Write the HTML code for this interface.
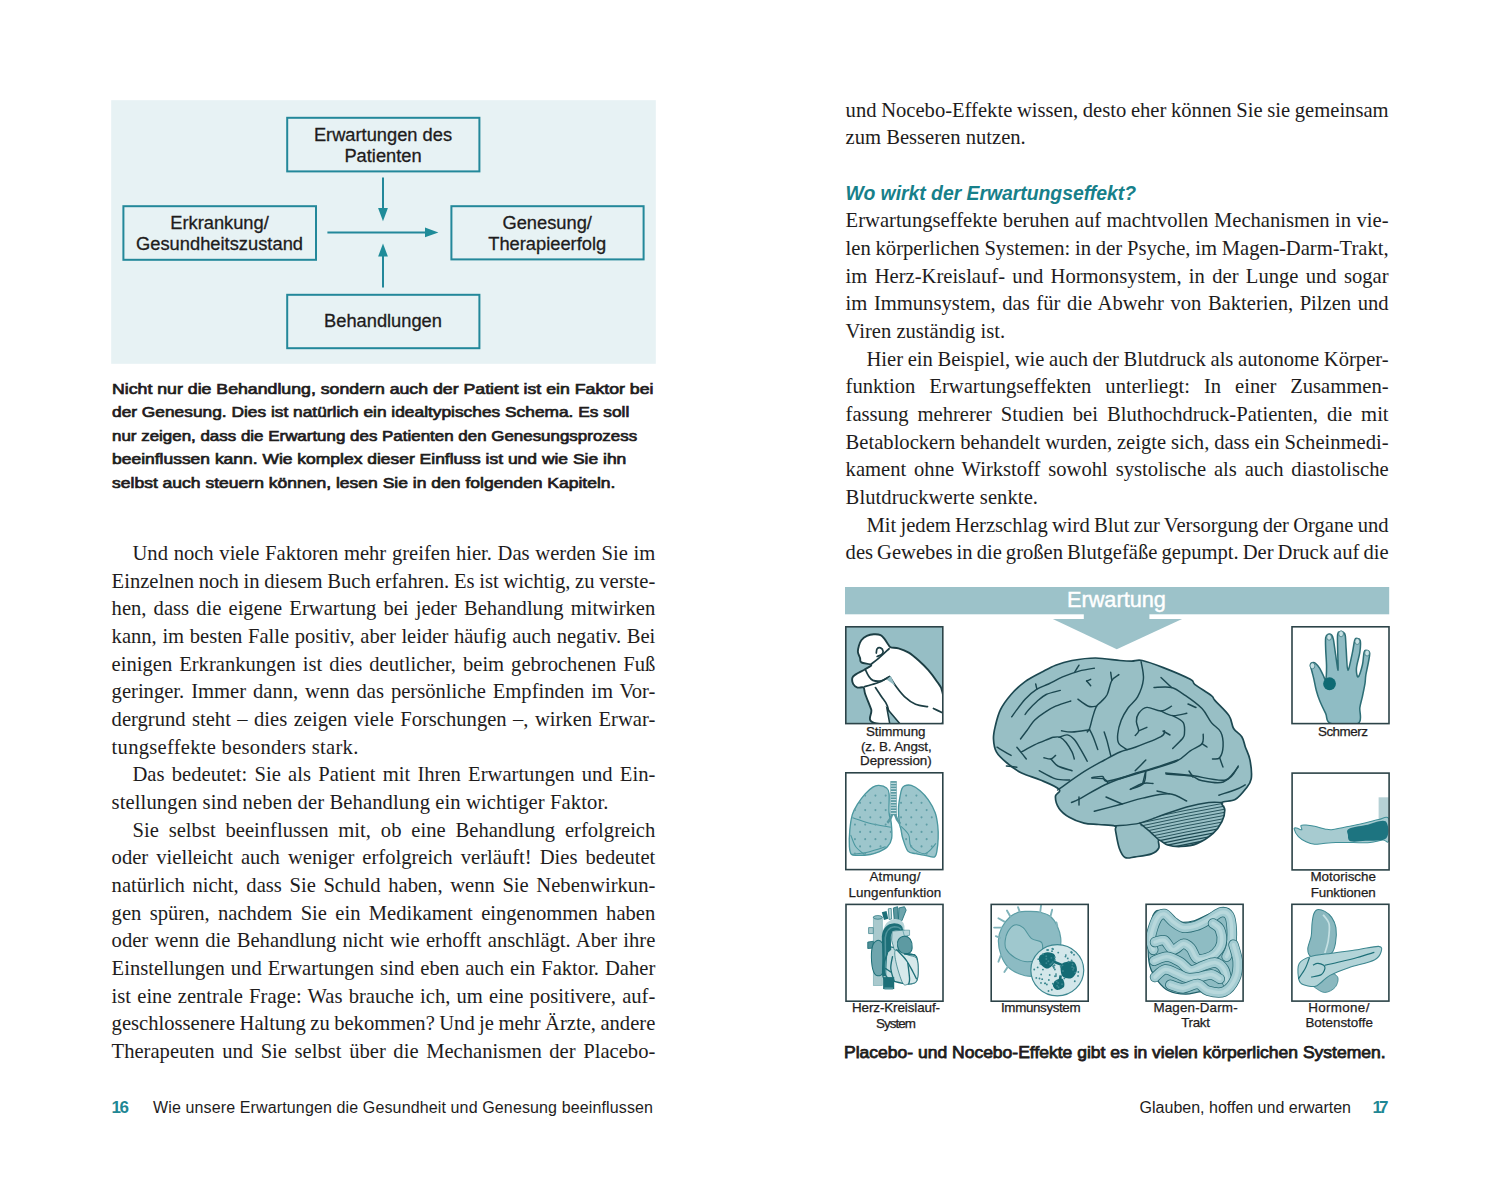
<!DOCTYPE html>
<html><head><meta charset="utf-8"><style>
html,body{margin:0;padding:0;background:#fff;width:1500px;height:1195px;overflow:hidden;position:relative}
.b{position:absolute;white-space:pre;line-height:0;font-family:'Liberation Serif', serif;font-size:20.6px;color:#1e1c1c}
.s{position:absolute;white-space:pre;line-height:0}
svg{position:absolute;left:0;top:0}
</style></head><body>
<svg width="1500" height="1195" viewBox="0 0 1500 1195">
<rect x="111.2" y="100.2" width="544.6" height="263.6" fill="#e7f2f4"/>
<g fill="none" stroke="#23889a" stroke-width="2">
<rect x="287.2" y="117.8" width="192.2" height="53.6"/>
<rect x="123.4" y="206.2" width="192.6" height="53.6"/>
<rect x="451.4" y="206.2" width="192.2" height="53.2"/>
<rect x="287.2" y="294.8" width="192.2" height="53.4"/>
<line x1="383" y1="177.6" x2="383" y2="209"/>
<line x1="327.4" y1="232.4" x2="426" y2="232.4"/>
<line x1="383" y1="287.6" x2="383" y2="256"/>
</g>
<g fill="#1f8c99">
<polygon points="378.1,208 387.9,208 383,221.2"/>
<polygon points="425,227.5 425,237.3 438.4,232.4"/>
<polygon points="378.1,256.6 387.9,256.6 383,243.4"/>
</g>

<rect x="845" y="587" width="544.2" height="27.3" fill="#9cc2c9"/>
<rect x="1083.8" y="613" width="65.6" height="7" fill="#9cc2c9"/>
<polygon points="1052.8,619 1182.1,619 1116.8,649.2" fill="#9cc2c9"/>
<path d="M993.5,739.0 C993.3,734.7 994.1,731.0 995.3,726.1 C996.5,721.2 997.9,715.0 1000.5,709.7 C1003.1,704.4 1007.0,699.2 1011.1,694.5 C1015.2,689.8 1020.0,685.3 1025.1,681.6 C1030.2,677.9 1036.4,675.0 1041.5,672.3 C1046.6,669.6 1050.5,667.2 1055.6,665.2 C1060.7,663.2 1065.4,661.7 1072.0,660.5 C1078.6,659.3 1087.4,658.0 1095.4,658.0 C1103.4,658.0 1114.0,660.0 1120.0,660.5 C1126.0,661.0 1128.0,661.1 1131.7,661.1 C1135.4,661.1 1137.0,659.4 1142.3,660.5 C1147.6,661.6 1155.3,664.5 1163.3,667.6 C1171.3,670.7 1185.0,676.5 1190.3,679.3 C1195.6,682.1 1191.5,681.9 1195.0,684.6 C1198.5,687.3 1208.1,693.1 1211.4,695.7 C1214.7,698.3 1212.0,697.1 1214.9,700.4 C1217.8,703.7 1225.9,710.9 1229.0,715.6 C1232.1,720.3 1231.5,725.0 1233.6,728.5 C1235.7,732.0 1239.8,733.6 1241.8,736.7 C1243.8,739.8 1244.0,743.3 1245.4,747.2 C1246.8,751.1 1249.0,754.8 1250.0,760.1 C1251.0,765.4 1252.0,774.0 1251.2,778.9 C1250.4,783.8 1248.0,785.8 1245.3,789.3 C1242.6,792.8 1239.0,797.4 1235.1,799.6 C1231.2,801.8 1223.7,800.8 1222.0,802.5 C1220.3,804.2 1224.8,806.7 1224.8,809.9 C1224.8,813.1 1223.9,817.7 1221.9,821.6 C1220.0,825.5 1217.3,829.6 1213.1,833.3 C1208.9,837.0 1202.3,841.4 1196.9,843.6 C1191.5,845.8 1185.7,846.3 1180.8,846.5 C1175.9,846.7 1171.3,846.1 1167.6,845.0 C1163.9,843.9 1160.3,839.5 1158.8,840.0 C1157.3,840.5 1160.0,845.7 1158.8,848.0 C1157.6,850.3 1155.4,852.4 1151.5,853.9 C1147.6,855.4 1139.7,856.2 1135.3,856.8 C1130.9,857.4 1127.8,859.0 1125.1,857.5 C1122.4,856.0 1120.8,852.5 1119.2,848.0 C1117.6,843.5 1116.2,834.1 1115.5,830.4 C1114.8,826.7 1117.6,827.0 1114.8,826.0 C1112.0,825.0 1103.8,825.0 1098.7,824.5 C1093.6,824.0 1088.9,824.3 1084.0,823.1 C1079.1,821.9 1073.5,819.7 1069.3,817.2 C1065.1,814.8 1061.4,811.8 1059.1,808.4 C1056.8,805.0 1055.4,799.9 1055.4,796.7 C1055.4,793.5 1061.6,792.1 1059.1,789.3 C1056.6,786.5 1046.7,782.7 1040.4,780.0 C1034.2,777.3 1027.3,775.9 1021.6,773.0 C1015.9,770.1 1010.6,766.0 1006.4,762.5 C1002.2,759.0 998.5,755.8 996.4,751.9 C994.2,748.0 993.7,743.3 993.5,739.0Z" fill="#98bfc5" stroke="#1c4851" stroke-width="1.7" stroke-linejoin="round"/>
<path d="M1094.3,668.2 C1091.7,668.6 1084.3,669.6 1079.0,671.1 C1073.8,672.6 1067.7,674.8 1062.6,676.9 C1057.6,679.1 1052.9,681.9 1048.6,684.0 C1044.3,686.0 1040.8,686.7 1036.9,689.2 C1033.0,691.8 1029.3,694.6 1025.1,699.2 C1020.9,703.8 1013.9,713.8 1011.7,716.8" fill="none" stroke="#1c4851" stroke-width="1.45" stroke-linecap="round"/>
<path d="M1079.0,665.2 C1078.4,666.3 1075.6,670.6 1074.9,671.7" fill="none" stroke="#1c4851" stroke-width="1.45" stroke-linecap="round"/>
<path d="M1035.7,684.0 C1035.9,684.9 1036.7,688.4 1036.9,689.2" fill="none" stroke="#1c4851" stroke-width="1.45" stroke-linecap="round"/>
<path d="M1060.3,690.4 C1057.9,691.1 1050.1,692.7 1046.2,694.5 C1042.3,696.4 1039.8,699.0 1036.9,701.5 C1033.9,704.1 1030.6,707.6 1028.7,709.7 C1026.7,711.9 1025.7,713.7 1025.1,714.4" fill="none" stroke="#1c4851" stroke-width="1.45" stroke-linecap="round"/>
<path d="M1070.8,701.0 C1068.3,701.8 1059.9,704.4 1055.6,706.2 C1051.3,708.1 1048.6,709.7 1045.1,712.1 C1041.5,714.4 1037.4,717.4 1034.5,720.3 C1031.6,723.2 1029.8,726.5 1027.5,729.7 C1025.1,732.8 1021.6,737.5 1020.5,739.0" fill="none" stroke="#1c4851" stroke-width="1.45" stroke-linecap="round"/>
<path d="M1118.9,674.6 C1117.7,675.6 1113.8,677.1 1111.8,680.5 C1109.9,683.8 1108.9,691.0 1107.2,694.5 C1105.4,698.0 1103.1,699.6 1101.3,701.5 C1099.5,703.5 1098.0,703.9 1096.6,706.2 C1095.2,708.6 1094.3,711.9 1093.1,715.6 C1091.9,719.3 1090.6,725.8 1089.6,728.5 C1088.6,731.2 1087.6,731.4 1087.2,732.0" fill="none" stroke="#1c4851" stroke-width="1.45" stroke-linecap="round"/>
<path d="M1110.7,672.3 C1110.9,673.6 1111.6,679.1 1111.8,680.5" fill="none" stroke="#1c4851" stroke-width="1.45" stroke-linecap="round"/>
<path d="M1077.9,699.2 C1079.6,700.4 1085.3,705.1 1088.4,706.2 C1091.5,707.4 1095.2,706.2 1096.6,706.2" fill="none" stroke="#1c4851" stroke-width="1.45" stroke-linecap="round"/>
<path d="M1086.6,681.0 C1087.3,681.8 1090.1,685.0 1090.7,685.7" fill="none" stroke="#1c4851" stroke-width="1.45" stroke-linecap="round"/>
<path d="M1086.6,681.0 C1087.3,680.8 1090.1,679.6 1090.7,679.3" fill="none" stroke="#1c4851" stroke-width="1.45" stroke-linecap="round"/>
<path d="M1061.5,730.8 C1063.2,731.0 1067.3,732.2 1072.0,732.0 C1076.7,731.8 1086.6,730.1 1089.6,729.7" fill="none" stroke="#1c4851" stroke-width="1.45" stroke-linecap="round"/>
<path d="M1089.6,729.7 C1090.2,730.8 1091.7,733.4 1093.1,736.7 C1094.5,740.0 1097.0,747.4 1097.8,749.6" fill="none" stroke="#1c4851" stroke-width="1.45" stroke-linecap="round"/>
<path d="M1021.6,751.9 C1023.8,750.7 1030.0,747.0 1034.5,744.9 C1039.0,742.7 1045.5,740.3 1048.6,739.0 C1051.7,737.8 1051.3,737.6 1053.3,737.3 C1055.2,737.0 1058.1,736.4 1060.3,737.3 C1062.4,738.2 1064.2,740.1 1066.1,742.5 C1068.1,745.0 1070.6,749.2 1072.0,751.9 C1073.4,754.7 1074.0,757.8 1074.3,759.0" fill="none" stroke="#1c4851" stroke-width="1.45" stroke-linecap="round"/>
<path d="M1059.1,737.3 C1060.5,736.9 1064.8,734.5 1067.3,734.9 C1069.9,735.3 1072.0,737.0 1074.3,739.6 C1076.7,742.3 1079.2,747.1 1081.4,750.7 C1083.5,754.4 1086.3,759.5 1087.2,761.3" fill="none" stroke="#1c4851" stroke-width="1.45" stroke-linecap="round"/>
<path d="M1043.9,757.8 C1045.1,758.0 1049.0,759.3 1050.9,759.0 C1052.9,758.6 1054.8,756.0 1055.6,755.4" fill="none" stroke="#1c4851" stroke-width="1.45" stroke-linecap="round"/>
<path d="M1050.9,759.0 C1052.1,760.1 1054.4,764.0 1057.9,766.0 C1061.5,767.9 1069.7,769.9 1072.0,770.7" fill="none" stroke="#1c4851" stroke-width="1.45" stroke-linecap="round"/>
<path d="M1104.2,732.0 C1104.7,733.6 1106.1,737.5 1107.2,741.4 C1108.2,745.3 1110.1,753.1 1110.7,755.4" fill="none" stroke="#1c4851" stroke-width="1.45" stroke-linecap="round"/>
<path d="M1016.9,747.2 C1017.7,748.2 1020.1,751.1 1021.6,753.1 C1023.2,755.0 1025.5,758.0 1026.3,759.0" fill="none" stroke="#1c4851" stroke-width="1.45" stroke-linecap="round"/>
<path d="M997.0,747.2 C999.4,748.6 1008.7,754.1 1011.1,755.4" fill="none" stroke="#1c4851" stroke-width="1.45" stroke-linecap="round"/>
<path d="M1006.4,766.0 C1008.2,766.2 1015.2,767.0 1016.9,767.2" fill="none" stroke="#1c4851" stroke-width="1.45" stroke-linecap="round"/>
<path d="M1039.2,770.7 C1041.9,772.0 1050.5,777.3 1055.6,778.9 C1060.7,780.4 1067.3,779.8 1069.7,780.0" fill="none" stroke="#1c4851" stroke-width="1.45" stroke-linecap="round"/>
<path d="M1091.9,777.7 C1093.7,777.5 1099.9,775.9 1102.5,776.5 C1105.0,777.1 1102.6,781.4 1107.2,781.2 C1111.7,781.0 1126.2,776.3 1130.0,775.4" fill="none" stroke="#1c4851" stroke-width="1.45" stroke-linecap="round"/>
<path d="M1141.1,661.7 C1141.5,664.6 1144.0,673.4 1143.4,679.3 C1142.8,685.2 1140.2,692.1 1137.6,696.9 C1135.0,701.7 1130.7,704.1 1128.0,708.0 C1125.3,711.9 1122.9,715.9 1121.2,720.3 C1119.5,724.7 1118.1,730.4 1117.7,734.3 C1117.3,738.2 1117.3,741.2 1118.9,743.7 C1120.5,746.2 1125.7,748.6 1127.1,749.6" fill="none" stroke="#1c4851" stroke-width="1.45" stroke-linecap="round"/>
<path d="M1154.0,687.5 C1156.9,687.5 1166.2,686.1 1171.5,687.5 C1176.8,688.9 1180.5,692.2 1185.6,695.7 C1190.7,699.2 1197.7,704.1 1202.0,708.6 C1206.3,713.1 1208.3,718.7 1211.4,722.6 C1214.5,726.5 1218.8,728.1 1220.7,732.0 C1222.7,735.9 1223.3,741.8 1223.1,746.1 C1222.9,750.4 1221.4,755.6 1219.6,757.8 C1217.8,759.9 1213.7,758.8 1212.5,759.0" fill="none" stroke="#1c4851" stroke-width="1.45" stroke-linecap="round"/>
<path d="M1161.0,677.5 C1162.8,679.2 1169.8,685.8 1171.5,687.5" fill="none" stroke="#1c4851" stroke-width="1.45" stroke-linecap="round"/>
<path d="M1188.0,704.0 C1189.3,704.6 1194.7,706.9 1196.0,707.5" fill="none" stroke="#1c4851" stroke-width="1.45" stroke-linecap="round"/>
<path d="M1219.6,757.8 C1220.2,759.3 1222.4,765.5 1223.0,767.0" fill="none" stroke="#1c4851" stroke-width="1.45" stroke-linecap="round"/>
<path d="M1171.5,706.2 C1169.8,707.0 1165.1,710.8 1161.0,711.0 C1156.9,711.2 1150.6,707.0 1146.9,707.4 C1143.2,707.8 1140.5,710.9 1138.7,713.3 C1137.0,715.6 1136.4,718.6 1136.4,721.5 C1136.4,724.4 1138.9,728.5 1138.7,730.8 C1138.5,733.1 1135.8,734.7 1135.2,735.5" fill="none" stroke="#1c4851" stroke-width="1.45" stroke-linecap="round"/>
<path d="M1138.7,730.8 C1140.1,730.2 1145.5,727.9 1146.9,727.3" fill="none" stroke="#1c4851" stroke-width="1.45" stroke-linecap="round"/>
<path d="M1161.0,711.0 C1163.0,711.8 1168.4,715.2 1172.7,715.6 C1177.0,716.0 1184.5,713.7 1186.8,713.3" fill="none" stroke="#1c4851" stroke-width="1.45" stroke-linecap="round"/>
<path d="M1172.7,715.6 C1174.5,716.8 1181.3,719.5 1183.3,722.6 C1185.2,725.7 1184.6,731.6 1184.4,734.3 C1184.2,737.0 1184.0,736.6 1182.1,739.0 C1180.1,741.4 1174.3,746.8 1172.7,748.4" fill="none" stroke="#1c4851" stroke-width="1.45" stroke-linecap="round"/>
<path d="M1163.0,731.0 C1164.2,731.7 1168.8,734.3 1170.0,735.0" fill="none" stroke="#1c4851" stroke-width="1.45" stroke-linecap="round"/>
<path d="M1057.6,790.0 C1062.0,787.0 1076.2,776.7 1084.0,771.7 C1091.8,766.7 1098.5,763.3 1104.5,760.0 C1110.5,756.7 1114.9,754.1 1120.0,752.0 C1125.1,749.9 1128.4,749.8 1135.2,747.2 C1142.0,744.7 1156.1,739.4 1161.0,736.7 C1165.9,734.0 1163.9,731.8 1164.5,730.8" fill="none" stroke="#1c4851" stroke-width="1.45" stroke-linecap="round"/>
<path d="M1120.0,778.9 C1123.9,777.7 1134.0,774.7 1143.4,771.8 C1152.8,768.9 1168.4,764.8 1176.2,761.3 C1184.0,757.8 1186.0,753.7 1190.3,750.8 C1194.6,747.9 1199.8,746.5 1202.0,743.7 C1204.2,741.0 1203.0,735.9 1203.2,734.3" fill="none" stroke="#1c4851" stroke-width="1.45" stroke-linecap="round"/>
<path d="M1202.0,743.7 C1202.8,744.2 1206.2,746.5 1207.0,747.0" fill="none" stroke="#1c4851" stroke-width="1.45" stroke-linecap="round"/>
<path d="M1135.2,770.7 C1137.0,768.9 1144.0,761.9 1145.8,760.1" fill="none" stroke="#1c4851" stroke-width="1.45" stroke-linecap="round"/>
<path d="M1145.8,771.8 C1145.4,773.8 1146.0,780.7 1143.4,783.6 C1140.9,786.5 1132.7,788.4 1130.5,789.4" fill="none" stroke="#1c4851" stroke-width="1.45" stroke-linecap="round"/>
<path d="M1165.7,773.0 C1169.8,773.4 1180.3,774.1 1190.3,775.3 C1200.2,776.5 1217.4,781.5 1225.4,780.0 C1233.4,778.5 1236.2,768.3 1238.3,766.0" fill="none" stroke="#1c4851" stroke-width="1.45" stroke-linecap="round"/>
<path d="M1189.0,771.0 C1189.7,772.0 1192.3,776.0 1193.0,777.0" fill="none" stroke="#1c4851" stroke-width="1.45" stroke-linecap="round"/>
<path d="M1071.5,802.5 C1073.1,801.8 1075.6,801.0 1081.1,798.1 C1086.6,795.2 1096.2,788.9 1104.5,785.0 C1112.8,781.1 1123.1,777.4 1130.9,774.7 C1138.7,772.0 1143.7,771.2 1151.5,768.8 C1159.3,766.3 1173.5,761.5 1177.9,760.0" fill="none" stroke="#1c4851" stroke-width="1.45" stroke-linecap="round"/>
<path d="M1079.0,797.0 C1079.0,798.3 1079.0,803.7 1079.0,805.0" fill="none" stroke="#1c4851" stroke-width="1.45" stroke-linecap="round"/>
<path d="M1092.0,778.0 C1094.0,778.2 1101.3,778.2 1104.0,779.0 C1106.7,779.8 1107.3,782.3 1108.0,783.0" fill="none" stroke="#1c4851" stroke-width="1.45" stroke-linecap="round"/>
<path d="M1094.3,811.3 C1098.9,810.1 1114.0,806.2 1122.1,804.0 C1130.2,801.8 1134.9,799.8 1142.7,798.1 C1150.5,796.4 1161.8,793.2 1169.1,793.7 C1176.4,794.2 1183.8,799.8 1186.7,801.0" fill="none" stroke="#1c4851" stroke-width="1.45" stroke-linecap="round"/>
<path d="M1106.0,797.0 C1108.7,798.2 1119.4,802.8 1122.1,804.0" fill="none" stroke="#1c4851" stroke-width="1.45" stroke-linecap="round"/>
<path d="M1157.0,791.0 C1159.0,791.5 1167.1,793.2 1169.1,793.7" fill="none" stroke="#1c4851" stroke-width="1.45" stroke-linecap="round"/>
<path d="M1130.2,789.3 C1132.3,788.3 1138.9,784.5 1142.7,783.5 C1146.5,782.5 1151.3,783.5 1153.0,783.5" fill="none" stroke="#1c4851" stroke-width="1.45" stroke-linecap="round"/>
<path d="M1142.7,783.5 C1143.2,781.5 1145.1,773.7 1145.6,771.7" fill="none" stroke="#1c4851" stroke-width="1.45" stroke-linecap="round"/>
<path d="M1166.1,774.0 C1170.3,774.4 1185.2,775.0 1191.1,776.1 C1197.0,777.2 1195.9,779.5 1201.3,780.5 C1206.7,781.5 1217.2,784.2 1223.3,782.0 C1229.4,779.8 1235.5,769.8 1238.0,767.3" fill="none" stroke="#1c4851" stroke-width="1.45" stroke-linecap="round"/>
<path d="M1218.9,795.2 C1221.8,794.2 1232.1,791.0 1236.5,789.3 C1240.9,787.6 1243.8,785.6 1245.3,784.9" fill="none" stroke="#1c4851" stroke-width="1.45" stroke-linecap="round"/>
<path d="M1114.8,826.0 C1119.0,825.5 1131.4,825.1 1139.7,823.1 C1148.0,821.1 1156.9,817.0 1164.7,814.3 C1172.5,811.6 1179.4,809.0 1186.7,807.0 C1194.0,805.0 1202.8,803.2 1208.7,802.5 C1214.6,801.8 1219.8,802.5 1222.0,802.5" fill="none" stroke="#1c4851" stroke-width="1.45" stroke-linecap="round"/>
<path d="M1139.7,823.1 C1141.2,824.3 1145.3,827.6 1148.5,830.4 C1151.7,833.2 1157.1,838.4 1158.8,840.0" fill="none" stroke="#1c4851" stroke-width="1.45" stroke-linecap="round"/>
<clipPath id="cbl"><path d="M1139.7,823.1 C1142.4,820.4 1156.9,817.0 1164.7,814.3 C1172.5,811.6 1179.4,809.0 1186.7,807.0 C1194.0,805.0 1202.8,803.2 1208.7,802.5 C1214.6,801.8 1219.3,801.3 1222.0,802.5 C1224.7,803.7 1224.8,806.7 1224.8,809.9 C1224.8,813.1 1223.9,817.7 1221.9,821.6 C1220.0,825.5 1217.3,829.6 1213.1,833.3 C1208.9,837.0 1202.3,841.4 1196.9,843.6 C1191.5,845.8 1185.7,846.3 1180.8,846.5 C1175.9,846.7 1171.3,846.1 1167.6,845.0 C1163.9,843.9 1162.0,842.4 1158.8,840.0 C1155.6,837.6 1151.7,833.2 1148.5,830.4 C1145.3,827.6 1137.0,825.8 1139.7,823.1Z"/></clipPath>
<g clip-path="url(#cbl)">
<path d="M1140,820.0 Q1185,810.0 1230,802.0" fill="none" stroke="#1c4851" stroke-width="0.9"/>
<path d="M1140,823.1 Q1185,813.1 1230,805.1" fill="none" stroke="#1c4851" stroke-width="0.9"/>
<path d="M1140,826.2 Q1185,816.2 1230,808.2" fill="none" stroke="#1c4851" stroke-width="0.9"/>
<path d="M1140,829.3 Q1185,819.3 1230,811.3" fill="none" stroke="#1c4851" stroke-width="0.9"/>
<path d="M1140,832.4 Q1185,822.4 1230,814.4" fill="none" stroke="#1c4851" stroke-width="0.9"/>
<path d="M1140,835.5 Q1185,825.5 1230,817.5" fill="none" stroke="#1c4851" stroke-width="0.9"/>
<path d="M1140,838.6 Q1185,828.6 1230,820.6" fill="none" stroke="#1c4851" stroke-width="0.9"/>
<path d="M1140,841.7 Q1185,831.7 1230,823.7" fill="none" stroke="#1c4851" stroke-width="0.9"/>
<path d="M1140,844.8 Q1185,834.8 1230,826.8" fill="none" stroke="#1c4851" stroke-width="1.3"/>
<path d="M1140,847.9 Q1185,837.9 1230,829.9" fill="none" stroke="#1c4851" stroke-width="1.3"/>
<path d="M1140,851.0 Q1185,841.0 1230,833.0" fill="none" stroke="#1c4851" stroke-width="1.3"/>
<path d="M1140,854.1 Q1185,844.1 1230,836.1" fill="none" stroke="#1c4851" stroke-width="1.3"/>
<path d="M1140,857.2 Q1185,847.2 1230,839.2" fill="none" stroke="#1c4851" stroke-width="1.3"/>
</g>
<clipPath id="c1"><rect x="845.8" y="626.8" width="97" height="96.8"/></clipPath>
<rect x="845.8" y="626.8" width="97" height="96.8" fill="#96bec5"/>
<g clip-path="url(#c1)"><g transform="translate(843,624) scale(0.08535)">
<path d="M215.0,450.0 C193.3,436.7 206.7,420.0 200.0,400.0 C193.3,380.0 177.5,353.3 175.0,330.0 C172.5,306.7 178.3,283.3 185.0,260.0 C191.7,236.7 199.2,210.0 215.0,190.0 C230.8,170.0 255.8,151.7 280.0,140.0 C304.2,128.3 333.3,121.7 360.0,120.0 C386.7,118.3 418.3,120.0 440.0,130.0 C461.7,140.0 475.0,161.7 490.0,180.0 C505.0,198.3 518.3,224.2 530.0,240.0 C541.7,255.8 540.0,267.5 560.0,275.0 C580.0,282.5 615.0,275.0 650.0,285.0 C685.0,295.0 730.0,310.8 770.0,335.0 C810.0,359.2 851.7,395.8 890.0,430.0 C928.3,464.2 966.7,501.7 1000.0,540.0 C1033.3,578.3 1062.5,616.7 1090.0,660.0 C1117.5,703.3 1152.5,715.8 1165.0,800.0 C1177.5,884.2 1294.2,1104.2 1165.0,1165.0 C1035.8,1225.8 529.2,1192.5 390.0,1165.0 C250.8,1137.5 351.7,1057.5 330.0,1000.0 C308.3,942.5 275.0,862.5 260.0,820.0 C245.0,777.5 255.0,757.5 240.0,745.0 C225.0,732.5 190.0,751.7 170.0,745.0 C150.0,738.3 130.0,724.2 120.0,705.0 C110.0,685.8 105.0,649.2 110.0,630.0 C115.0,610.8 125.0,606.7 150.0,590.0 C175.0,573.3 230.0,548.3 260.0,530.0 C290.0,511.7 337.5,493.3 330.0,480.0 C322.5,466.7 236.7,463.3 215.0,450.0Z" fill="#fff" stroke="#1c3e44" stroke-width="22" stroke-linejoin="round"/>
<path d="M260.0,530.0 C266.7,543.3 285.0,588.3 300.0,610.0 C315.0,631.7 325.0,650.8 350.0,660.0 C375.0,669.2 418.3,671.7 450.0,665.0 C481.7,658.3 525.0,627.5 540.0,620.0" fill="none" stroke="#1c3e44" stroke-width="20" stroke-linecap="round"/>
<path d="M250.0,735.0 C263.3,731.2 300.0,721.2 330.0,712.0 C360.0,702.8 394.2,696.2 430.0,680.0 C465.8,663.8 525.8,625.8 545.0,615.0" fill="none" stroke="#1c3e44" stroke-width="20" stroke-linecap="round"/>
<path d="M380.0,745.0 C391.7,762.5 426.7,814.2 450.0,850.0 C473.3,885.8 501.7,907.5 520.0,960.0 C538.3,1012.5 553.3,1130.8 560.0,1165.0" fill="none" stroke="#1c3e44" stroke-width="20" stroke-linecap="round"/>
<path d="M550.0,620.0 C561.7,638.3 591.7,691.7 620.0,730.0 C648.3,768.3 681.7,815.0 720.0,850.0 C758.3,885.0 805.0,920.3 850.0,940.0 C895.0,959.7 966.7,963.3 990.0,968.0" fill="none" stroke="#1c3e44" stroke-width="20" stroke-linecap="round"/>
<path d="M1060.0,990.0 C1077.5,998.3 1147.5,1031.7 1165.0,1040.0" fill="none" stroke="#1c3e44" stroke-width="20" stroke-linecap="round"/>
<path d="M330.0,470.0 C345.0,458.3 385.0,430.0 420.0,400.0 C455.0,370.0 520.0,308.3 540.0,290.0" fill="none" stroke="#1c3e44" stroke-width="20" stroke-linecap="round"/>
<path d="M390.0,340.0 C391.7,331.7 391.7,300.0 400.0,290.0 C408.3,280.0 428.3,275.0 440.0,280.0 C451.7,285.0 468.3,306.7 470.0,320.0 C471.7,333.3 461.7,350.0 450.0,360.0 C438.3,370.0 408.3,376.7 400.0,380.0" fill="none" stroke="#1c3e44" stroke-width="20" stroke-linecap="round"/>
<polygon points="510,650 560,610 610,720" fill="#96bec5"/>
<path d="M515,990 L548,1170 L668,1170 Z" fill="#96bec5" stroke="#1c3e44" stroke-width="18"/>
</g></g>
<clipPath id="c2"><rect x="1292.0" y="626.8" width="97" height="96.8"/></clipPath>
<rect x="1292.0" y="626.8" width="97" height="96.8" fill="#fff"/>
<g clip-path="url(#c2)"><g transform="translate(1289,624) scale(0.08535)">
<path d="M490.0,1165.0 C426.7,1145.8 451.7,1094.2 430.0,1050.0 C408.3,1005.8 378.3,945.0 360.0,900.0 C341.7,855.0 331.7,823.3 320.0,780.0 C308.3,736.7 298.3,676.7 290.0,640.0 C281.7,603.3 276.7,586.7 270.0,560.0 C263.3,533.3 250.0,497.5 250.0,480.0 C250.0,462.5 260.0,458.3 270.0,455.0 C280.0,451.7 295.0,449.2 310.0,460.0 C325.0,470.8 345.0,496.7 360.0,520.0 C375.0,543.3 388.3,578.3 400.0,600.0 C411.7,621.7 423.3,666.7 430.0,650.0 C436.7,633.3 440.0,558.3 440.0,500.0 C440.0,441.7 431.7,356.7 430.0,300.0 C428.3,243.3 425.0,190.0 430.0,160.0 C435.0,130.0 448.3,125.0 460.0,120.0 C471.7,115.0 490.0,120.0 500.0,130.0 C510.0,140.0 512.5,143.3 520.0,180.0 C527.5,216.7 535.8,290.0 545.0,350.0 C554.2,410.0 570.8,548.3 575.0,540.0 C579.2,531.7 570.8,370.0 570.0,300.0 C569.2,230.0 565.0,155.0 570.0,120.0 C575.0,85.0 588.3,93.3 600.0,90.0 C611.7,86.7 630.0,91.7 640.0,100.0 C650.0,108.3 655.0,106.7 660.0,140.0 C665.0,173.3 665.0,233.3 670.0,300.0 C675.0,366.7 678.3,531.7 690.0,540.0 C701.7,548.3 726.7,408.3 740.0,350.0 C753.3,291.7 760.0,220.0 770.0,190.0 C780.0,160.0 789.2,169.2 800.0,170.0 C810.8,170.8 830.0,168.3 835.0,195.0 C840.0,221.7 837.5,275.8 830.0,330.0 C822.5,384.2 793.3,471.7 790.0,520.0 C786.7,568.3 798.3,626.7 810.0,620.0 C821.7,613.3 848.3,528.3 860.0,480.0 C871.7,431.7 871.7,358.3 880.0,330.0 C888.3,301.7 899.2,308.3 910.0,310.0 C920.8,311.7 941.7,316.7 945.0,340.0 C948.3,363.3 937.5,406.7 930.0,450.0 C922.5,493.3 906.7,558.3 900.0,600.0 C893.3,641.7 896.7,658.3 890.0,700.0 C883.3,741.7 870.0,803.3 860.0,850.0 C850.0,896.7 838.3,927.5 830.0,980.0 C821.7,1032.5 866.7,1134.2 810.0,1165.0 C753.3,1195.8 553.3,1184.2 490.0,1165.0Z" fill="#8fbcc4" stroke="#2d6e76" stroke-width="18" stroke-linejoin="round"/>
<ellipse cx="470" cy="155" rx="28" ry="35" fill="#c9e2e5" stroke="#2d6e76" stroke-width="8"/>
<ellipse cx="610" cy="115" rx="28" ry="35" fill="#c9e2e5" stroke="#2d6e76" stroke-width="8"/>
<ellipse cx="800" cy="205" rx="28" ry="35" fill="#c9e2e5" stroke="#2d6e76" stroke-width="8"/>
<ellipse cx="915" cy="340" rx="28" ry="35" fill="#c9e2e5" stroke="#2d6e76" stroke-width="8"/>
<ellipse cx="275" cy="490" rx="28" ry="35" fill="#c9e2e5" stroke="#2d6e76" stroke-width="8"/>
<circle cx="475" cy="700" r="75" fill="#0f6a73"/>
</g></g>
<clipPath id="c3"><rect x="845.8" y="772.8" width="97" height="96.8"/></clipPath>
<rect x="845.8" y="772.8" width="97" height="96.8" fill="#fff"/>
<g clip-path="url(#c3)"><g transform="translate(843,770) scale(0.08535)">
<path d="M420.0,180.0 C446.7,181.7 490.0,193.3 510.0,210.0 C530.0,226.7 535.0,231.7 540.0,280.0 C545.0,328.3 535.8,443.3 540.0,500.0 C544.2,556.7 560.0,570.0 565.0,620.0 C570.0,670.0 577.5,753.3 570.0,800.0 C562.5,846.7 545.0,873.3 520.0,900.0 C495.0,926.7 453.3,945.0 420.0,960.0 C386.7,975.0 360.0,983.3 320.0,990.0 C280.0,996.7 216.7,1000.0 180.0,1000.0 C143.3,1000.0 117.5,1006.7 100.0,990.0 C82.5,973.3 78.3,948.3 75.0,900.0 C71.7,851.7 74.2,763.3 80.0,700.0 C85.8,636.7 95.0,570.0 110.0,520.0 C125.0,470.0 145.0,440.0 170.0,400.0 C195.0,360.0 230.0,313.3 260.0,280.0 C290.0,246.7 323.3,216.7 350.0,200.0 C376.7,183.3 393.3,178.3 420.0,180.0Z" fill="#9dc6cc" stroke="#4b979f" stroke-width="16"/>
<path d="M720.0,185.0 C738.3,178.3 770.0,170.8 800.0,180.0 C830.0,189.2 866.7,211.7 900.0,240.0 C933.3,268.3 970.0,306.7 1000.0,350.0 C1030.0,393.3 1061.7,450.0 1080.0,500.0 C1098.3,550.0 1104.2,600.0 1110.0,650.0 C1115.8,700.0 1116.7,750.0 1115.0,800.0 C1113.3,850.0 1107.5,913.3 1100.0,950.0 C1092.5,986.7 1093.3,1011.7 1070.0,1020.0 C1046.7,1028.3 996.7,1006.7 960.0,1000.0 C923.3,993.3 883.3,988.3 850.0,980.0 C816.7,971.7 785.0,980.0 760.0,950.0 C735.0,920.0 713.3,841.7 700.0,800.0 C686.7,758.3 686.7,730.0 680.0,700.0 C673.3,670.0 665.0,661.7 660.0,620.0 C655.0,578.3 648.3,503.3 650.0,450.0 C651.7,396.7 663.3,338.3 670.0,300.0 C676.7,261.7 681.7,239.2 690.0,220.0 C698.3,200.8 701.7,191.7 720.0,185.0Z" fill="#9dc6cc" stroke="#4b979f" stroke-width="16"/>
<rect x="555" y="130" width="75" height="400" fill="#5a9aa2"/>
<rect x="560" y="150" width="65" height="11" fill="#dcedef"/>
<rect x="560" y="182" width="65" height="11" fill="#dcedef"/>
<rect x="560" y="214" width="65" height="11" fill="#dcedef"/>
<rect x="560" y="246" width="65" height="11" fill="#dcedef"/>
<rect x="560" y="278" width="65" height="11" fill="#dcedef"/>
<rect x="560" y="310" width="65" height="11" fill="#dcedef"/>
<rect x="560" y="342" width="65" height="11" fill="#dcedef"/>
<rect x="560" y="374" width="65" height="11" fill="#dcedef"/>
<rect x="560" y="406" width="65" height="11" fill="#dcedef"/>
<rect x="560" y="438" width="65" height="11" fill="#dcedef"/>
<rect x="560" y="470" width="65" height="11" fill="#dcedef"/>
<rect x="560" y="502" width="65" height="11" fill="#dcedef"/>
<path d="M575,520 Q560,580 520,620 M610,520 Q625,580 670,630" fill="none" stroke="#5a9aa2" stroke-width="30"/>
<path d="M110.0,560.0 C141.7,570.0 225.0,601.7 300.0,620.0 C375.0,638.3 516.7,661.7 560.0,670.0" fill="none" stroke="#4b979f" stroke-width="12"/>
<path d="M90.0,760.0 C100.0,783.3 123.3,861.7 150.0,900.0 C176.7,938.3 233.3,975.0 250.0,990.0" fill="none" stroke="#4b979f" stroke-width="12"/>
<path d="M680.0,660.0 C695.0,676.7 750.0,720.0 770.0,760.0 C790.0,800.0 768.3,863.3 800.0,900.0 C831.7,936.7 911.7,986.7 960.0,980.0 C1008.3,973.3 1068.3,880.0 1090.0,860.0" fill="none" stroke="#4b979f" stroke-width="12"/>
<path d="M100.0,990.0 C133.3,985.0 233.3,975.0 300.0,960.0 C366.7,945.0 466.7,910.0 500.0,900.0" fill="none" stroke="#4b979f" stroke-width="12"/>
<clipPath id="lungclip"><path d="M420.0,180.0 C446.7,181.7 490.0,193.3 510.0,210.0 C530.0,226.7 535.0,231.7 540.0,280.0 C545.0,328.3 535.8,443.3 540.0,500.0 C544.2,556.7 560.0,570.0 565.0,620.0 C570.0,670.0 577.5,753.3 570.0,800.0 C562.5,846.7 545.0,873.3 520.0,900.0 C495.0,926.7 453.3,945.0 420.0,960.0 C386.7,975.0 360.0,983.3 320.0,990.0 C280.0,996.7 216.7,1000.0 180.0,1000.0 C143.3,1000.0 117.5,1006.7 100.0,990.0 C82.5,973.3 78.3,948.3 75.0,900.0 C71.7,851.7 74.2,763.3 80.0,700.0 C85.8,636.7 95.0,570.0 110.0,520.0 C125.0,470.0 145.0,440.0 170.0,400.0 C195.0,360.0 230.0,313.3 260.0,280.0 C290.0,246.7 323.3,216.7 350.0,200.0 C376.7,183.3 393.3,178.3 420.0,180.0Z"/><path d="M720.0,185.0 C738.3,178.3 770.0,170.8 800.0,180.0 C830.0,189.2 866.7,211.7 900.0,240.0 C933.3,268.3 970.0,306.7 1000.0,350.0 C1030.0,393.3 1061.7,450.0 1080.0,500.0 C1098.3,550.0 1104.2,600.0 1110.0,650.0 C1115.8,700.0 1116.7,750.0 1115.0,800.0 C1113.3,850.0 1107.5,913.3 1100.0,950.0 C1092.5,986.7 1093.3,1011.7 1070.0,1020.0 C1046.7,1028.3 996.7,1006.7 960.0,1000.0 C923.3,993.3 883.3,988.3 850.0,980.0 C816.7,971.7 785.0,980.0 760.0,950.0 C735.0,920.0 713.3,841.7 700.0,800.0 C686.7,758.3 686.7,730.0 680.0,700.0 C673.3,670.0 665.0,661.7 660.0,620.0 C655.0,578.3 648.3,503.3 650.0,450.0 C651.7,396.7 663.3,338.3 670.0,300.0 C676.7,261.7 681.7,239.2 690.0,220.0 C698.3,200.8 701.7,191.7 720.0,185.0Z"/></clipPath>
<g clip-path="url(#lungclip)">
<circle cx="140" cy="300" r="12" fill="#5f9ea6"/>
<circle cx="200" cy="385" r="12" fill="#5f9ea6"/>
<circle cx="140" cy="470" r="12" fill="#5f9ea6"/>
<circle cx="200" cy="555" r="12" fill="#5f9ea6"/>
<circle cx="140" cy="640" r="12" fill="#5f9ea6"/>
<circle cx="200" cy="725" r="12" fill="#5f9ea6"/>
<circle cx="140" cy="810" r="12" fill="#5f9ea6"/>
<circle cx="200" cy="895" r="12" fill="#5f9ea6"/>
<circle cx="140" cy="980" r="12" fill="#5f9ea6"/>
<circle cx="260" cy="300" r="12" fill="#5f9ea6"/>
<circle cx="320" cy="385" r="12" fill="#5f9ea6"/>
<circle cx="260" cy="470" r="12" fill="#5f9ea6"/>
<circle cx="320" cy="555" r="12" fill="#5f9ea6"/>
<circle cx="260" cy="640" r="12" fill="#5f9ea6"/>
<circle cx="320" cy="725" r="12" fill="#5f9ea6"/>
<circle cx="260" cy="810" r="12" fill="#5f9ea6"/>
<circle cx="320" cy="895" r="12" fill="#5f9ea6"/>
<circle cx="260" cy="980" r="12" fill="#5f9ea6"/>
<circle cx="380" cy="300" r="12" fill="#5f9ea6"/>
<circle cx="440" cy="385" r="12" fill="#5f9ea6"/>
<circle cx="380" cy="470" r="12" fill="#5f9ea6"/>
<circle cx="440" cy="555" r="12" fill="#5f9ea6"/>
<circle cx="380" cy="640" r="12" fill="#5f9ea6"/>
<circle cx="440" cy="725" r="12" fill="#5f9ea6"/>
<circle cx="380" cy="810" r="12" fill="#5f9ea6"/>
<circle cx="440" cy="895" r="12" fill="#5f9ea6"/>
<circle cx="380" cy="980" r="12" fill="#5f9ea6"/>
<circle cx="500" cy="300" r="12" fill="#5f9ea6"/>
<circle cx="560" cy="385" r="12" fill="#5f9ea6"/>
<circle cx="500" cy="470" r="12" fill="#5f9ea6"/>
<circle cx="560" cy="555" r="12" fill="#5f9ea6"/>
<circle cx="500" cy="640" r="12" fill="#5f9ea6"/>
<circle cx="560" cy="725" r="12" fill="#5f9ea6"/>
<circle cx="500" cy="810" r="12" fill="#5f9ea6"/>
<circle cx="560" cy="895" r="12" fill="#5f9ea6"/>
<circle cx="500" cy="980" r="12" fill="#5f9ea6"/>
<circle cx="680" cy="385" r="12" fill="#5f9ea6"/>
<circle cx="680" cy="555" r="12" fill="#5f9ea6"/>
<circle cx="680" cy="725" r="12" fill="#5f9ea6"/>
<circle cx="680" cy="895" r="12" fill="#5f9ea6"/>
<circle cx="740" cy="300" r="12" fill="#5f9ea6"/>
<circle cx="800" cy="385" r="12" fill="#5f9ea6"/>
<circle cx="740" cy="470" r="12" fill="#5f9ea6"/>
<circle cx="800" cy="555" r="12" fill="#5f9ea6"/>
<circle cx="740" cy="640" r="12" fill="#5f9ea6"/>
<circle cx="800" cy="725" r="12" fill="#5f9ea6"/>
<circle cx="740" cy="810" r="12" fill="#5f9ea6"/>
<circle cx="800" cy="895" r="12" fill="#5f9ea6"/>
<circle cx="740" cy="980" r="12" fill="#5f9ea6"/>
<circle cx="860" cy="300" r="12" fill="#5f9ea6"/>
<circle cx="920" cy="385" r="12" fill="#5f9ea6"/>
<circle cx="860" cy="470" r="12" fill="#5f9ea6"/>
<circle cx="920" cy="555" r="12" fill="#5f9ea6"/>
<circle cx="860" cy="640" r="12" fill="#5f9ea6"/>
<circle cx="920" cy="725" r="12" fill="#5f9ea6"/>
<circle cx="860" cy="810" r="12" fill="#5f9ea6"/>
<circle cx="920" cy="895" r="12" fill="#5f9ea6"/>
<circle cx="860" cy="980" r="12" fill="#5f9ea6"/>
<circle cx="980" cy="300" r="12" fill="#5f9ea6"/>
<circle cx="1040" cy="385" r="12" fill="#5f9ea6"/>
<circle cx="980" cy="470" r="12" fill="#5f9ea6"/>
<circle cx="1040" cy="555" r="12" fill="#5f9ea6"/>
<circle cx="980" cy="640" r="12" fill="#5f9ea6"/>
<circle cx="1040" cy="725" r="12" fill="#5f9ea6"/>
<circle cx="980" cy="810" r="12" fill="#5f9ea6"/>
<circle cx="1040" cy="895" r="12" fill="#5f9ea6"/>
<circle cx="980" cy="980" r="12" fill="#5f9ea6"/>
</g>
</g></g>
<clipPath id="c4"><rect x="1292.1" y="773.1" width="97" height="96.8"/></clipPath>
<rect x="1292.1" y="773.1" width="97" height="96.8" fill="#fff"/>
<g clip-path="url(#c4)"><g transform="translate(1289,770) scale(0.08535)">
<rect x="1050" y="320" width="118" height="270" fill="#b6d1d5"/>
<path d="M60.0,690.0 C56.7,673.3 75.0,678.3 90.0,680.0 C105.0,681.7 141.7,705.0 150.0,700.0 C158.3,695.0 131.7,659.2 140.0,650.0 C148.3,640.8 173.3,643.3 200.0,645.0 C226.7,646.7 263.3,652.5 300.0,660.0 C336.7,667.5 386.7,683.3 420.0,690.0 C453.3,696.7 461.7,703.3 500.0,700.0 C538.3,696.7 591.7,681.7 650.0,670.0 C708.3,658.3 783.3,645.0 850.0,630.0 C916.7,615.0 997.0,590.0 1050.0,580.0 C1103.0,570.0 1148.3,528.3 1168.0,570.0 C1187.7,611.7 1179.3,788.3 1168.0,830.0 C1156.7,871.7 1136.3,816.7 1100.0,820.0 C1063.7,823.3 1008.3,845.0 950.0,850.0 C891.7,855.0 816.7,850.0 750.0,850.0 C683.3,850.0 608.3,848.3 550.0,850.0 C491.7,851.7 441.7,856.7 400.0,860.0 C358.3,863.3 333.3,873.3 300.0,870.0 C266.7,866.7 231.7,855.0 200.0,840.0 C168.3,825.0 133.3,805.0 110.0,780.0 C86.7,755.0 63.3,706.7 60.0,690.0Z" fill="#a7cbd0" stroke="#3f8f98" stroke-width="12"/>
<path d="M700.0,690.0 C735.0,670.8 828.3,660.0 900.0,645.0 C971.7,630.0 1090.0,574.2 1130.0,600.0 C1170.0,625.8 1178.3,761.7 1140.0,800.0 C1101.7,838.3 970.0,824.2 900.0,830.0 C830.0,835.8 755.0,846.7 720.0,835.0 C685.0,823.3 693.3,784.2 690.0,760.0 C686.7,735.8 665.0,709.2 700.0,690.0Z" fill="#1d7480"/>
</g></g>
<clipPath id="c5"><rect x="846.0" y="904.4" width="97" height="96.8"/></clipPath>
<rect x="846.0" y="904.4" width="97" height="96.8" fill="#fff"/>
<g clip-path="url(#c5)"><g transform="translate(843,902) scale(0.08535)">
<rect x="355" y="175" width="105" height="805" fill="#a9c9cd" stroke="#7fb0b6" stroke-width="8"/>
<ellipse cx="408" cy="180" rx="52" ry="22" fill="#8fbdc3" stroke="#1d6f78" stroke-width="8"/>
<path d="M300,300 L355,300 L355,370 L300,370Z" fill="#a9c9cd" stroke="#4f8f97" stroke-width="10"/>
<path d="M290,470 L355,460 L355,540 L290,545Z" fill="#4f8f97" stroke="#1d6f78" stroke-width="10"/>
<path d="M455,120 L510,105 L530,195 L480,210Z" fill="#1d6f78"/>
<path d="M530,80 L565,75 L570,200 L540,205Z" fill="#b8d6da" stroke="#1d6f78" stroke-width="8"/>
<path d="M590,70 L640,55 L650,210 L600,215Z" fill="#5a969e" stroke="#1d6f78" stroke-width="10"/>
<path d="M655,70 L720,55 L740,95 L690,220 L650,210Z" fill="#6ea5ad" stroke="#1d6f78" stroke-width="10"/>
<path d="M470,420 Q455,230 600,200 Q700,190 720,280 L720,340 L580,350 L560,560 L470,560Z" fill="#b5d3d7"/>
<path d="M400.0,450.0 C419.2,443.3 445.0,455.0 460.0,480.0 C475.0,505.0 486.7,550.0 490.0,600.0 C493.3,650.0 488.3,736.7 480.0,780.0 C471.7,823.3 458.3,850.0 440.0,860.0 C421.7,870.0 387.5,866.7 370.0,840.0 C352.5,813.3 339.2,753.3 335.0,700.0 C330.8,646.7 334.2,561.7 345.0,520.0 C355.8,478.3 380.8,456.7 400.0,450.0Z" fill="#6ea5ad" stroke="#1d6f78" stroke-width="12"/>
<path d="M500.0,560.0 C526.7,503.3 586.7,533.3 630.0,540.0 C673.3,546.7 721.7,583.3 760.0,600.0 C798.3,616.7 840.0,606.7 860.0,640.0 C880.0,673.3 880.0,751.7 880.0,800.0 C880.0,848.3 878.3,903.3 860.0,930.0 C841.7,956.7 813.3,960.0 770.0,960.0 C726.7,960.0 650.0,943.3 600.0,930.0 C550.0,916.7 486.7,941.7 470.0,880.0 C453.3,818.3 473.3,616.7 500.0,560.0Z" fill="#c3dcdf" stroke="#1d6f78" stroke-width="14"/>
<path d="M620.0,560.0 C643.3,546.7 720.0,603.3 760.0,620.0 C800.0,636.7 840.0,630.0 860.0,660.0 C880.0,690.0 880.0,755.0 880.0,800.0 C880.0,845.0 878.3,903.3 860.0,930.0 C841.7,956.7 796.7,956.7 770.0,960.0 C743.3,963.3 725.0,993.3 700.0,950.0 C675.0,906.7 633.3,765.0 620.0,700.0 C606.7,635.0 596.7,573.3 620.0,560.0Z" fill="#d7e9eb" stroke="#1d6f78" stroke-width="8"/>
<path d="M465,870 L455,400 Q470,260 600,250 Q700,250 705,330 L620,330 Q560,340 560,420 L565,560 L520,600 L500,870Z" fill="#1d6f78"/>
<path d="M500,860 L495,420 Q510,300 600,290 Q660,290 680,320" fill="none" stroke="#4f949c" stroke-width="18"/>
<path d="M575,340 L715,330 L760,390 L720,580 L600,560 L570,450Z" fill="#b8d6da" stroke="#1d6f78" stroke-width="8"/>
<path d="M700,330 L780,330 L780,390 L720,400Z" fill="#b8d6da" stroke="#4f949c" stroke-width="8"/>
<path d="M650.0,440.0 C663.3,420.0 696.7,400.0 720.0,400.0 C743.3,400.0 775.0,416.7 790.0,440.0 C805.0,463.3 813.3,513.3 810.0,540.0 C806.7,566.7 791.7,591.7 770.0,600.0 C748.3,608.3 701.7,603.3 680.0,590.0 C658.3,576.7 645.0,545.0 640.0,520.0 C635.0,495.0 636.7,460.0 650.0,440.0Z" fill="#5d9aa2" stroke="#1d6f78" stroke-width="12"/>
<rect x="470" y="880" width="130" height="140" fill="#1d6f78"/>
<rect x="485" y="1000" width="100" height="25" fill="#4f949c"/>
<path d="M520.0,600.0 C511.7,626.7 473.3,716.7 470.0,760.0 C466.7,803.3 485.0,831.7 500.0,860.0 C515.0,888.3 550.0,918.3 560.0,930.0" fill="none" stroke="#1d6f78" stroke-width="16" stroke-linecap="round"/>
<path d="M630.0,560.0 C648.3,580.0 708.3,636.7 740.0,680.0 C771.7,723.3 800.0,783.3 820.0,820.0 C840.0,856.7 853.3,886.7 860.0,900.0" fill="none" stroke="#1d6f78" stroke-width="16" stroke-linecap="round"/>
<path d="M580.0,640.0 C576.7,663.3 556.7,731.7 560.0,780.0 C563.3,828.3 593.3,905.0 600.0,930.0" fill="none" stroke="#1d6f78" stroke-width="16" stroke-linecap="round"/>
<path d="M720.0,610.0 C740.0,611.7 820.0,618.3 840.0,620.0" fill="none" stroke="#1d6f78" stroke-width="16" stroke-linecap="round"/>
<path d="M760.0,720.0 C763.3,750.0 778.3,860.0 780.0,900.0 C781.7,940.0 771.7,950.0 770.0,960.0" fill="none" stroke="#1d6f78" stroke-width="16" stroke-linecap="round"/>
<path d="M500.0,780.0 C510.0,786.7 550.0,813.3 560.0,820.0" fill="none" stroke="#1d6f78" stroke-width="16" stroke-linecap="round"/>
</g></g>
<clipPath id="c6"><rect x="991.2" y="904.4" width="97" height="96.8"/></clipPath>
<rect x="991.2" y="904.4" width="97" height="96.8" fill="#fff"/>
<g clip-path="url(#c6)"><g transform="translate(989,902) scale(0.08535)">
<path d="M470.0,110.0 C510.0,110.8 558.3,110.0 600.0,120.0 C641.7,130.0 686.7,143.3 720.0,170.0 C753.3,196.7 780.0,238.3 800.0,280.0 C820.0,321.7 835.0,373.3 840.0,420.0 C845.0,466.7 841.7,513.3 830.0,560.0 C818.3,606.7 800.0,656.7 770.0,700.0 C740.0,743.3 695.0,791.7 650.0,820.0 C605.0,848.3 550.0,866.7 500.0,870.0 C450.0,873.3 396.7,858.3 350.0,840.0 C303.3,821.7 255.0,796.7 220.0,760.0 C185.0,723.3 158.3,671.7 140.0,620.0 C121.7,568.3 108.3,503.3 110.0,450.0 C111.7,396.7 126.7,346.7 150.0,300.0 C173.3,253.3 215.0,200.8 250.0,170.0 C285.0,139.2 323.3,125.0 360.0,115.0 C396.7,105.0 430.0,109.2 470.0,110.0Z" fill="#8cbbc3" stroke="#5d9ea6" stroke-width="14"/>
<line x1="250" y1="170" x2="210" y2="100" stroke="#7fb3ba" stroke-width="22" stroke-linecap="round"/>
<line x1="360" y1="115" x2="340" y2="60" stroke="#7fb3ba" stroke-width="22" stroke-linecap="round"/>
<line x1="600" y1="120" x2="610" y2="40" stroke="#7fb3ba" stroke-width="22" stroke-linecap="round"/>
<line x1="720" y1="170" x2="740" y2="90" stroke="#7fb3ba" stroke-width="22" stroke-linecap="round"/>
<line x1="150" y1="300" x2="60" y2="300" stroke="#7fb3ba" stroke-width="22" stroke-linecap="round"/>
<line x1="140" y1="620" x2="110" y2="700" stroke="#7fb3ba" stroke-width="22" stroke-linecap="round"/>
<line x1="220" y1="760" x2="180" y2="820" stroke="#7fb3ba" stroke-width="22" stroke-linecap="round"/>
<line x1="800" y1="280" x2="790" y2="240" stroke="#7fb3ba" stroke-width="22" stroke-linecap="round"/>
<line x1="180" y1="230" x2="110" y2="190" stroke="#7fb3ba" stroke-width="22" stroke-linecap="round"/>
<line x1="130" y1="420" x2="80" y2="400" stroke="#7fb3ba" stroke-width="22" stroke-linecap="round"/>
<path d="M200.0,550.0 C218.3,583.3 258.3,625.0 300.0,650.0 C341.7,675.0 400.0,700.0 450.0,700.0 C500.0,700.0 571.7,686.7 600.0,650.0 C628.3,613.3 636.7,516.7 620.0,480.0 C603.3,443.3 536.7,460.0 500.0,430.0 C463.3,400.0 433.3,326.7 400.0,300.0 C366.7,273.3 330.0,261.7 300.0,270.0 C270.0,278.3 238.3,320.0 220.0,350.0 C201.7,380.0 193.3,416.7 190.0,450.0 C186.7,483.3 181.7,516.7 200.0,550.0Z" fill="#9fc8ce" stroke="#4f949c" stroke-width="12"/>
<ellipse cx="800" cy="800" rx="310" ry="300" fill="#d3e7ea" stroke="#3d8790" stroke-width="14"/>
<path d="M590.0,640.0 C603.3,618.3 650.0,593.3 680.0,590.0 C710.0,586.7 756.7,598.3 770.0,620.0 C783.3,641.7 775.0,693.3 760.0,720.0 C745.0,746.7 706.7,780.0 680.0,780.0 C653.3,780.0 615.0,743.3 600.0,720.0 C585.0,696.7 576.7,661.7 590.0,640.0Z" fill="#146b74"/>
<path d="M860.0,720.0 C885.0,703.3 961.7,686.7 990.0,700.0 C1018.3,713.3 1033.3,768.3 1030.0,800.0 C1026.7,831.7 996.7,876.7 970.0,890.0 C943.3,903.3 891.7,895.0 870.0,880.0 C848.3,865.0 841.7,826.7 840.0,800.0 C838.3,773.3 835.0,736.7 860.0,720.0Z" fill="#146b74"/>
<path d="M780.0,920.0 C798.3,906.7 843.3,888.3 860.0,900.0 C876.7,911.7 890.0,968.3 880.0,990.0 C870.0,1011.7 821.7,1031.7 800.0,1030.0 C778.3,1028.3 753.3,998.3 750.0,980.0 C746.7,961.7 761.7,933.3 780.0,920.0Z" fill="#146b74"/>
<path d="M760,700 L860,740 M840,860 L830,920" stroke="#146b74" stroke-width="30"/>
<circle cx="815" cy="999" r="11" fill="#3b8790"/>
<circle cx="656" cy="953" r="11" fill="#3b8790"/>
<circle cx="751" cy="751" r="11" fill="#3b8790"/>
<circle cx="1046" cy="820" r="11" fill="#3b8790"/>
<circle cx="792" cy="930" r="11" fill="#3b8790"/>
<circle cx="985" cy="795" r="11" fill="#3b8790"/>
<circle cx="896" cy="640" r="11" fill="#3b8790"/>
<circle cx="733" cy="720" r="11" fill="#3b8790"/>
<circle cx="633" cy="611" r="11" fill="#3b8790"/>
<circle cx="570" cy="766" r="11" fill="#3b8790"/>
<circle cx="768" cy="740" r="11" fill="#3b8790"/>
<circle cx="811" cy="593" r="11" fill="#3b8790"/>
<circle cx="785" cy="845" r="11" fill="#3b8790"/>
<circle cx="923" cy="661" r="11" fill="#3b8790"/>
<circle cx="751" cy="552" r="11" fill="#3b8790"/>
<circle cx="742" cy="547" r="11" fill="#3b8790"/>
<circle cx="609" cy="948" r="11" fill="#3b8790"/>
<circle cx="554" cy="889" r="11" fill="#3b8790"/>
<circle cx="861" cy="742" r="11" fill="#3b8790"/>
<circle cx="883" cy="895" r="11" fill="#3b8790"/>
<circle cx="974" cy="762" r="11" fill="#3b8790"/>
<circle cx="696" cy="694" r="11" fill="#3b8790"/>
<circle cx="632" cy="792" r="11" fill="#3b8790"/>
<circle cx="678" cy="966" r="11" fill="#3b8790"/>
<circle cx="578" cy="670" r="11" fill="#3b8790"/>
<circle cx="692" cy="563" r="11" fill="#3b8790"/>
<circle cx="967" cy="589" r="11" fill="#3b8790"/>
<circle cx="748" cy="704" r="11" fill="#3b8790"/>
<circle cx="970" cy="596" r="11" fill="#3b8790"/>
<circle cx="968" cy="685" r="11" fill="#3b8790"/>
<circle cx="772" cy="679" r="11" fill="#3b8790"/>
<circle cx="900" cy="622" r="11" fill="#3b8790"/>
<circle cx="785" cy="866" r="11" fill="#3b8790"/>
<circle cx="963" cy="587" r="11" fill="#3b8790"/>
<circle cx="1005" cy="928" r="11" fill="#3b8790"/>
<circle cx="711" cy="856" r="11" fill="#3b8790"/>
<circle cx="736" cy="1028" r="11" fill="#3b8790"/>
<circle cx="840" cy="759" r="11" fill="#3b8790"/>
<circle cx="757" cy="762" r="11" fill="#3b8790"/>
<circle cx="769" cy="648" r="11" fill="#3b8790"/>
<circle cx="996" cy="618" r="11" fill="#3b8790"/>
<circle cx="530" cy="791" r="11" fill="#3b8790"/>
<circle cx="773" cy="870" r="11" fill="#3b8790"/>
<circle cx="761" cy="772" r="11" fill="#3b8790"/>
<circle cx="856" cy="963" r="11" fill="#3b8790"/>
<circle cx="718" cy="732" r="11" fill="#3b8790"/>
<circle cx="1043" cy="866" r="11" fill="#3b8790"/>
<circle cx="697" cy="1043" r="11" fill="#3b8790"/>
<circle cx="932" cy="700" r="11" fill="#3b8790"/>
<circle cx="611" cy="848" r="11" fill="#3b8790"/>
<circle cx="671" cy="636" r="11" fill="#3b8790"/>
<circle cx="602" cy="723" r="11" fill="#3b8790"/>
<circle cx="979" cy="730" r="11" fill="#3b8790"/>
<circle cx="592" cy="896" r="11" fill="#3b8790"/>
<circle cx="811" cy="948" r="11" fill="#3b8790"/>
<circle cx="993" cy="773" r="11" fill="#3b8790"/>
<circle cx="772" cy="791" r="11" fill="#3b8790"/>
<circle cx="623" cy="904" r="11" fill="#3b8790"/>
<circle cx="1010" cy="827" r="11" fill="#3b8790"/>
<circle cx="755" cy="751" r="11" fill="#3b8790"/>
<circle cx="672" cy="668" r="11" fill="#3b8790"/>
<circle cx="731" cy="655" r="11" fill="#3b8790"/>
<circle cx="738" cy="576" r="11" fill="#3b8790"/>
<circle cx="866" cy="809" r="11" fill="#3b8790"/>
<circle cx="681" cy="563" r="11" fill="#3b8790"/>
<circle cx="799" cy="982" r="11" fill="#3b8790"/>
<circle cx="672" cy="716" r="11" fill="#3b8790"/>
<circle cx="701" cy="914" r="11" fill="#3b8790"/>
<circle cx="658" cy="953" r="11" fill="#3b8790"/>
<circle cx="748" cy="958" r="11" fill="#3b8790"/>
</g></g>
<clipPath id="c7"><rect x="1146.1" y="904.3" width="97" height="96.8"/></clipPath>
<rect x="1146.1" y="904.3" width="97" height="96.8" fill="#fff"/>
<g clip-path="url(#c7)"><g transform="translate(1143,902) scale(0.08535)">
<path d="M200.0,100.0 C246.7,113.3 333.3,210.0 400.0,230.0 C466.7,250.0 533.3,236.7 600.0,220.0 C666.7,203.3 740.0,151.7 800.0,130.0 C860.0,108.3 920.0,78.3 960.0,90.0 C1000.0,101.7 1023.3,145.0 1040.0,200.0 C1056.7,255.0 1045.0,353.3 1060.0,420.0 C1075.0,486.7 1116.7,528.3 1130.0,600.0 C1143.3,671.7 1151.7,780.0 1140.0,850.0 C1128.3,920.0 1100.0,980.0 1060.0,1020.0 C1020.0,1060.0 960.0,1085.0 900.0,1090.0 C840.0,1095.0 766.7,1051.7 700.0,1050.0 C633.3,1048.3 566.7,1081.7 500.0,1080.0 C433.3,1078.3 355.0,1066.7 300.0,1040.0 C245.0,1013.3 206.7,968.3 170.0,920.0 C133.3,871.7 98.3,820.0 80.0,750.0 C61.7,680.0 58.3,575.0 60.0,500.0 C61.7,425.0 80.0,358.3 90.0,300.0 C100.0,241.7 101.7,183.3 120.0,150.0 C138.3,116.7 153.3,86.7 200.0,100.0Z" fill="#8ebcc3" stroke="#1f5f68" stroke-width="14"/>
<path d="M120.0,560.0 C115.0,536.7 83.3,480.0 90.0,420.0 C96.7,360.0 133.3,246.7 160.0,200.0 C186.7,153.3 218.3,135.0 250.0,140.0 C281.7,145.0 313.3,203.3 350.0,230.0 C386.7,256.7 425.0,291.7 470.0,300.0 C515.0,308.3 568.3,296.7 620.0,280.0 C671.7,263.3 730.0,226.7 780.0,200.0 C830.0,173.3 881.7,126.7 920.0,120.0 C958.3,113.3 990.0,126.7 1010.0,160.0 C1030.0,193.3 1036.7,260.0 1040.0,320.0 C1043.3,380.0 1040.0,466.7 1030.0,520.0 C1020.0,573.3 988.3,620.0 980.0,640.0" fill="none" stroke="#2a6c75" stroke-width="122" stroke-linecap="round" stroke-linejoin="round"/>
<path d="M120.0,560.0 C115.0,536.7 83.3,480.0 90.0,420.0 C96.7,360.0 133.3,246.7 160.0,200.0 C186.7,153.3 218.3,135.0 250.0,140.0 C281.7,145.0 313.3,203.3 350.0,230.0 C386.7,256.7 425.0,291.7 470.0,300.0 C515.0,308.3 568.3,296.7 620.0,280.0 C671.7,263.3 730.0,226.7 780.0,200.0 C830.0,173.3 881.7,126.7 920.0,120.0 C958.3,113.3 990.0,126.7 1010.0,160.0 C1030.0,193.3 1036.7,260.0 1040.0,320.0 C1043.3,380.0 1040.0,466.7 1030.0,520.0 C1020.0,573.3 988.3,620.0 980.0,640.0" fill="none" stroke="#a4ccd2" stroke-width="104" stroke-linecap="round" stroke-linejoin="round"/>
<path d="M120.0,560.0 C115.0,536.7 83.3,480.0 90.0,420.0 C96.7,360.0 133.3,246.7 160.0,200.0 C186.7,153.3 218.3,135.0 250.0,140.0 C281.7,145.0 313.3,203.3 350.0,230.0 C386.7,256.7 425.0,291.7 470.0,300.0 C515.0,308.3 568.3,296.7 620.0,280.0 C671.7,263.3 730.0,226.7 780.0,200.0 C830.0,173.3 881.7,126.7 920.0,120.0 C958.3,113.3 990.0,126.7 1010.0,160.0 C1030.0,193.3 1036.7,260.0 1040.0,320.0 C1043.3,380.0 1040.0,466.7 1030.0,520.0 C1020.0,573.3 988.3,620.0 980.0,640.0" fill="none" stroke="#b8d8dc" stroke-width="40" stroke-linecap="round" stroke-linejoin="round"/>
<path d="M140.0,470.0 C158.3,466.7 215.0,435.0 250.0,450.0 C285.0,465.0 313.3,553.3 350.0,560.0 C386.7,566.7 435.0,493.3 470.0,490.0 C505.0,486.7 533.3,511.7 560.0,540.0 C586.7,568.3 600.0,640.0 630.0,660.0 C660.0,680.0 703.3,670.0 740.0,660.0 C776.7,650.0 820.0,630.0 850.0,600.0 C880.0,570.0 911.7,526.7 920.0,480.0 C928.3,433.3 916.7,358.3 900.0,320.0 C883.3,281.7 833.3,261.7 820.0,250.0" fill="none" stroke="#2a6c75" stroke-width="122" stroke-linecap="round" stroke-linejoin="round"/>
<path d="M140.0,470.0 C158.3,466.7 215.0,435.0 250.0,450.0 C285.0,465.0 313.3,553.3 350.0,560.0 C386.7,566.7 435.0,493.3 470.0,490.0 C505.0,486.7 533.3,511.7 560.0,540.0 C586.7,568.3 600.0,640.0 630.0,660.0 C660.0,680.0 703.3,670.0 740.0,660.0 C776.7,650.0 820.0,630.0 850.0,600.0 C880.0,570.0 911.7,526.7 920.0,480.0 C928.3,433.3 916.7,358.3 900.0,320.0 C883.3,281.7 833.3,261.7 820.0,250.0" fill="none" stroke="#a4ccd2" stroke-width="104" stroke-linecap="round" stroke-linejoin="round"/>
<path d="M140.0,470.0 C158.3,466.7 215.0,435.0 250.0,450.0 C285.0,465.0 313.3,553.3 350.0,560.0 C386.7,566.7 435.0,493.3 470.0,490.0 C505.0,486.7 533.3,511.7 560.0,540.0 C586.7,568.3 600.0,640.0 630.0,660.0 C660.0,680.0 703.3,670.0 740.0,660.0 C776.7,650.0 820.0,630.0 850.0,600.0 C880.0,570.0 911.7,526.7 920.0,480.0 C928.3,433.3 916.7,358.3 900.0,320.0 C883.3,281.7 833.3,261.7 820.0,250.0" fill="none" stroke="#b8d8dc" stroke-width="40" stroke-linecap="round" stroke-linejoin="round"/>
<path d="M130.0,690.0 C155.0,681.7 230.0,638.3 280.0,640.0 C330.0,641.7 383.3,673.3 430.0,700.0 C476.7,726.7 515.0,791.7 560.0,800.0 C605.0,808.3 651.7,765.0 700.0,750.0 C748.3,735.0 808.3,703.3 850.0,710.0 C891.7,716.7 926.7,750.0 950.0,790.0 C973.3,830.0 983.3,923.3 990.0,950.0" fill="none" stroke="#2a6c75" stroke-width="122" stroke-linecap="round" stroke-linejoin="round"/>
<path d="M130.0,690.0 C155.0,681.7 230.0,638.3 280.0,640.0 C330.0,641.7 383.3,673.3 430.0,700.0 C476.7,726.7 515.0,791.7 560.0,800.0 C605.0,808.3 651.7,765.0 700.0,750.0 C748.3,735.0 808.3,703.3 850.0,710.0 C891.7,716.7 926.7,750.0 950.0,790.0 C973.3,830.0 983.3,923.3 990.0,950.0" fill="none" stroke="#a4ccd2" stroke-width="104" stroke-linecap="round" stroke-linejoin="round"/>
<path d="M130.0,690.0 C155.0,681.7 230.0,638.3 280.0,640.0 C330.0,641.7 383.3,673.3 430.0,700.0 C476.7,726.7 515.0,791.7 560.0,800.0 C605.0,808.3 651.7,765.0 700.0,750.0 C748.3,735.0 808.3,703.3 850.0,710.0 C891.7,716.7 926.7,750.0 950.0,790.0 C973.3,830.0 983.3,923.3 990.0,950.0" fill="none" stroke="#b8d8dc" stroke-width="40" stroke-linecap="round" stroke-linejoin="round"/>
<path d="M140.0,880.0 C160.0,865.0 216.7,796.7 260.0,790.0 C303.3,783.3 356.7,823.3 400.0,840.0 C443.3,856.7 476.7,883.3 520.0,890.0 C563.3,896.7 613.3,886.7 660.0,880.0 C706.7,873.3 760.0,846.7 800.0,850.0 C840.0,853.3 883.3,891.7 900.0,900.0" fill="none" stroke="#2a6c75" stroke-width="122" stroke-linecap="round" stroke-linejoin="round"/>
<path d="M140.0,880.0 C160.0,865.0 216.7,796.7 260.0,790.0 C303.3,783.3 356.7,823.3 400.0,840.0 C443.3,856.7 476.7,883.3 520.0,890.0 C563.3,896.7 613.3,886.7 660.0,880.0 C706.7,873.3 760.0,846.7 800.0,850.0 C840.0,853.3 883.3,891.7 900.0,900.0" fill="none" stroke="#a4ccd2" stroke-width="104" stroke-linecap="round" stroke-linejoin="round"/>
<path d="M140.0,880.0 C160.0,865.0 216.7,796.7 260.0,790.0 C303.3,783.3 356.7,823.3 400.0,840.0 C443.3,856.7 476.7,883.3 520.0,890.0 C563.3,896.7 613.3,886.7 660.0,880.0 C706.7,873.3 760.0,846.7 800.0,850.0 C840.0,853.3 883.3,891.7 900.0,900.0" fill="none" stroke="#b8d8dc" stroke-width="40" stroke-linecap="round" stroke-linejoin="round"/>
<path d="M320.0,970.0 C345.0,976.7 416.7,1011.7 470.0,1010.0 C523.3,1008.3 591.7,955.0 640.0,960.0 C688.3,965.0 708.3,1025.0 760.0,1040.0 C811.7,1055.0 896.7,1073.3 950.0,1050.0 C1003.3,1026.7 1053.3,958.3 1080.0,900.0 C1106.7,841.7 1113.3,766.7 1110.0,700.0 C1106.7,633.3 1068.3,533.3 1060.0,500.0" fill="none" stroke="#2a6c75" stroke-width="122" stroke-linecap="round" stroke-linejoin="round"/>
<path d="M320.0,970.0 C345.0,976.7 416.7,1011.7 470.0,1010.0 C523.3,1008.3 591.7,955.0 640.0,960.0 C688.3,965.0 708.3,1025.0 760.0,1040.0 C811.7,1055.0 896.7,1073.3 950.0,1050.0 C1003.3,1026.7 1053.3,958.3 1080.0,900.0 C1106.7,841.7 1113.3,766.7 1110.0,700.0 C1106.7,633.3 1068.3,533.3 1060.0,500.0" fill="none" stroke="#a4ccd2" stroke-width="104" stroke-linecap="round" stroke-linejoin="round"/>
<path d="M320.0,970.0 C345.0,976.7 416.7,1011.7 470.0,1010.0 C523.3,1008.3 591.7,955.0 640.0,960.0 C688.3,965.0 708.3,1025.0 760.0,1040.0 C811.7,1055.0 896.7,1073.3 950.0,1050.0 C1003.3,1026.7 1053.3,958.3 1080.0,900.0 C1106.7,841.7 1113.3,766.7 1110.0,700.0 C1106.7,633.3 1068.3,533.3 1060.0,500.0" fill="none" stroke="#b8d8dc" stroke-width="40" stroke-linecap="round" stroke-linejoin="round"/>
</g></g>
<clipPath id="c8"><rect x="1291.9" y="904.3" width="97" height="96.8"/></clipPath>
<rect x="1291.9" y="904.3" width="97" height="96.8" fill="#fff"/>
<g clip-path="url(#c8)"><g transform="translate(1289,902) scale(0.08535)">
<path d="M330.0,90.0 C351.7,85.0 391.7,95.0 420.0,110.0 C448.3,125.0 478.3,148.3 500.0,180.0 C521.7,211.7 542.5,250.0 550.0,300.0 C557.5,350.0 553.3,430.0 545.0,480.0 C536.7,530.0 524.2,573.3 500.0,600.0 C475.8,626.7 440.0,633.3 400.0,640.0 C360.0,646.7 290.0,655.0 260.0,640.0 C230.0,625.0 220.0,590.0 220.0,550.0 C220.0,510.0 251.7,450.0 260.0,400.0 C268.3,350.0 265.0,293.3 270.0,250.0 C275.0,206.7 280.0,166.7 290.0,140.0 C300.0,113.3 308.3,95.0 330.0,90.0Z" fill="#8ab8bf" stroke="#3c868f" stroke-width="12"/>
<path d="M400.0,150.0 C411.7,168.3 460.0,210.0 470.0,260.0 C480.0,310.0 468.3,393.3 460.0,450.0 C451.7,506.7 426.7,575.0 420.0,600.0" fill="none" stroke="#c5e0e3" stroke-width="20"/>
<path d="M180.0,900.0 C188.3,923.3 260.0,973.3 300.0,1000.0 C340.0,1026.7 380.0,1060.0 420.0,1060.0 C460.0,1060.0 515.0,1030.0 540.0,1000.0 C565.0,970.0 585.0,910.0 570.0,880.0 C555.0,850.0 503.3,823.3 450.0,820.0 C396.7,816.7 295.0,846.7 250.0,860.0 C205.0,873.3 171.7,876.7 180.0,900.0Z" fill="#8ab8bf" stroke="#3c868f" stroke-width="10"/>
<path d="M120.0,720.0 C143.3,680.0 186.7,660.0 250.0,640.0 C313.3,620.0 408.3,613.3 500.0,600.0 C591.7,586.7 708.3,573.3 800.0,560.0 C891.7,546.7 1003.3,516.7 1050.0,520.0 C1096.7,523.3 1088.3,553.3 1080.0,580.0 C1071.7,606.7 1063.3,648.3 1000.0,680.0 C936.7,711.7 786.7,740.0 700.0,770.0 C613.3,800.0 533.3,831.7 480.0,860.0 C426.7,888.3 410.0,918.3 380.0,940.0 C350.0,961.7 338.3,986.7 300.0,990.0 C261.7,993.3 181.7,978.3 150.0,960.0 C118.3,941.7 115.0,920.0 110.0,880.0 C105.0,840.0 96.7,760.0 120.0,720.0Z" fill="#b3d4d8" stroke="#3c868f" stroke-width="12"/>
<path d="M110.0,900.0 C123.3,880.0 168.3,821.7 190.0,780.0 C211.7,738.3 231.7,671.7 240.0,650.0" fill="none" stroke="#1d6f78" stroke-width="14"/>
<path d="M260.0,880.0 C280.0,875.0 353.3,870.0 380.0,850.0 C406.7,830.0 426.7,781.7 420.0,760.0 C413.3,738.3 363.3,723.3 340.0,720.0 C316.7,716.7 290.0,736.7 280.0,740.0" fill="none" stroke="#1d6f78" stroke-width="14"/>
<path d="M420.0,740.0 C450.0,733.3 536.7,715.0 600.0,700.0 C663.3,685.0 733.3,668.3 800.0,650.0 C866.7,631.7 966.7,600.0 1000.0,590.0" fill="none" stroke="#1d6f78" stroke-width="14"/>
</g></g>
<rect x="845.8" y="626.8" width="97" height="96.8" fill="none" stroke="#2c4348" stroke-width="1.6"/>
<rect x="1292.0" y="626.8" width="97" height="96.8" fill="none" stroke="#2c4348" stroke-width="1.6"/>
<rect x="845.8" y="772.8" width="97" height="96.8" fill="none" stroke="#2c4348" stroke-width="1.6"/>
<rect x="1292.1" y="773.1" width="97" height="96.8" fill="none" stroke="#2c4348" stroke-width="1.6"/>
<rect x="846.0" y="904.4" width="97" height="96.8" fill="none" stroke="#2c4348" stroke-width="1.6"/>
<rect x="991.2" y="904.4" width="97" height="96.8" fill="none" stroke="#2c4348" stroke-width="1.6"/>
<rect x="1146.1" y="904.3" width="97" height="96.8" fill="none" stroke="#2c4348" stroke-width="1.6"/>
<rect x="1291.9" y="904.3" width="97" height="96.8" fill="none" stroke="#2c4348" stroke-width="1.6"/>
</svg>
<div class="b" style="left:132.50px;top:552.95px;word-spacing:0.524px">Und noch viele Faktoren mehr greifen hier. Das werden Sie im</div>
<div class="b" style="left:111.60px;top:580.62px;word-spacing:-0.416px">Einzelnen noch in diesem Buch erfahren. Es ist wichtig, zu verste-</div>
<div class="b" style="left:111.60px;top:608.29px;word-spacing:1.982px">hen, dass die eigene Erwartung bei jeder Behandlung mitwirken</div>
<div class="b" style="left:111.60px;top:635.96px;word-spacing:0.479px">kann, im besten Falle positiv, aber leider häufig auch negativ. Bei</div>
<div class="b" style="left:111.60px;top:663.63px;word-spacing:1.810px">einigen Erkrankungen ist dies deutlicher, beim gebrochenen Fuß</div>
<div class="b" style="left:111.60px;top:691.30px;word-spacing:1.767px">geringer. Immer dann, wenn das persönliche Empfinden im Vor-</div>
<div class="b" style="left:111.60px;top:718.97px;word-spacing:1.277px">dergrund steht – dies zeigen viele Forschungen –, wirken Erwar-</div>
<div class="b" style="left:111.60px;top:746.64px;letter-spacing:0.266px">tungseffekte besonders stark.</div>
<div class="b" style="left:132.50px;top:774.31px;word-spacing:2.106px">Das bedeutet: Sie als Patient mit Ihren Erwartungen und Ein-</div>
<div class="b" style="left:111.60px;top:801.98px;letter-spacing:0.108px">stellungen sind neben der Behandlung ein wichtiger Faktor.</div>
<div class="b" style="left:132.50px;top:829.65px;word-spacing:4.748px">Sie selbst beeinflussen mit, ob eine Behandlung erfolgreich</div>
<div class="b" style="left:111.60px;top:857.32px;word-spacing:2.930px">oder vielleicht auch weniger erfolgreich verläuft! Dies bedeutet</div>
<div class="b" style="left:111.60px;top:884.99px;word-spacing:2.476px">natürlich nicht, dass Sie Schuld haben, wenn Sie Nebenwirkun-</div>
<div class="b" style="left:111.60px;top:912.66px;word-spacing:3.162px">gen spüren, nachdem Sie ein Medikament eingenommen haben</div>
<div class="b" style="left:111.60px;top:940.33px;word-spacing:1.106px">oder wenn die Behandlung nicht wie erhofft anschlägt. Aber ihre</div>
<div class="b" style="left:111.60px;top:968.00px;word-spacing:0.836px">Einstellungen und Erwartungen sind eben auch ein Faktor. Daher</div>
<div class="b" style="left:111.60px;top:995.67px;word-spacing:1.051px">ist eine zentrale Frage: Was brauche ich, um eine positivere, auf-</div>
<div class="b" style="left:111.60px;top:1023.34px;word-spacing:-0.729px">geschlossenere Haltung zu bekommen? Und je mehr Ärzte, andere</div>
<div class="b" style="left:111.60px;top:1051.01px;word-spacing:2.484px">Therapeuten und Sie selbst über die Mechanismen der Placebo-</div>
<div class="b" style="left:845.60px;top:109.75px;word-spacing:-0.490px">und Nocebo-Effekte wissen, desto eher können Sie sie gemeinsam</div>
<div class="b" style="left:845.60px;top:137.42px">zum Besseren nutzen.</div>
<div class="b" style="left:845.60px;top:220.43px;word-spacing:0.404px">Erwartungseffekte beruhen auf machtvollen Mechanismen in vie-</div>
<div class="b" style="left:845.60px;top:248.10px;word-spacing:-0.348px">len körperlichen Systemen: in der Psyche, im Magen-Darm-Trakt,</div>
<div class="b" style="left:845.60px;top:275.77px;word-spacing:2.176px">im Herz-Kreislauf- und Hormonsystem, in der Lunge und sogar</div>
<div class="b" style="left:845.60px;top:303.44px;word-spacing:1.422px">im Immunsystem, das für die Abwehr von Bakterien, Pilzen und</div>
<div class="b" style="left:845.60px;top:331.11px">Viren zuständig ist.</div>
<div class="b" style="left:866.50px;top:358.78px;word-spacing:-0.529px">Hier ein Beispiel, wie auch der Blutdruck als autonome Körper-</div>
<div class="b" style="left:845.60px;top:386.45px;word-spacing:8.828px">funktion Erwartungseffekten unterliegt: In einer Zusammen-</div>
<div class="b" style="left:845.60px;top:414.12px;word-spacing:3.854px">fassung mehrerer Studien bei Bluthochdruck-Patienten, die mit</div>
<div class="b" style="left:845.60px;top:441.79px;word-spacing:-0.283px">Betablockern behandelt wurden, zeigte sich, dass ein Scheinmedi-</div>
<div class="b" style="left:845.60px;top:469.46px;word-spacing:2.708px">kament ohne Wirkstoff sowohl systolische als auch diastolische</div>
<div class="b" style="left:845.60px;top:497.13px;letter-spacing:0.066px">Blutdruckwerte senkte.</div>
<div class="b" style="left:866.50px;top:524.80px;word-spacing:-0.897px">Mit jedem Herzschlag wird Blut zur Versorgung der Organe und</div>
<div class="b" style="left:845.60px;top:552.47px;word-spacing:-1.114px">des Gewebes in die großen Blutgefäße gepumpt. Der Druck auf die</div>
<div class="s" style="left:111.70px;top:388.73px;font-family:'Liberation Sans', sans-serif;font-size:15.2px;font-weight:normal;font-style:normal;-webkit-text-stroke:0.7px #1e1c1c;color:#1e1c1c;transform:scaleX(1.1661);transform-origin:0 0">Nicht nur die Behandlung, sondern auch der Patient ist ein Faktor bei</div>
<div class="s" style="left:111.70px;top:412.33px;font-family:'Liberation Sans', sans-serif;font-size:15.2px;font-weight:normal;font-style:normal;-webkit-text-stroke:0.7px #1e1c1c;color:#1e1c1c;transform:scaleX(1.1411);transform-origin:0 0">der Genesung. Dies ist natürlich ein idealtypisches Schema. Es soll</div>
<div class="s" style="left:111.70px;top:435.93px;font-family:'Liberation Sans', sans-serif;font-size:15.2px;font-weight:normal;font-style:normal;-webkit-text-stroke:0.7px #1e1c1c;color:#1e1c1c;transform:scaleX(1.1146);transform-origin:0 0">nur zeigen, dass die Erwartung des Patienten den Genesungsprozess</div>
<div class="s" style="left:111.70px;top:459.43px;font-family:'Liberation Sans', sans-serif;font-size:15.2px;font-weight:normal;font-style:normal;-webkit-text-stroke:0.7px #1e1c1c;color:#1e1c1c;transform:scaleX(1.1495);transform-origin:0 0">beeinflussen kann. Wie komplex dieser Einfluss ist und wie Sie ihn</div>
<div class="s" style="left:111.70px;top:482.83px;font-family:'Liberation Sans', sans-serif;font-size:15.2px;font-weight:normal;font-style:normal;-webkit-text-stroke:0.7px #1e1c1c;color:#1e1c1c;transform:scaleX(1.1532);transform-origin:0 0">selbst auch steuern können, lesen Sie in den folgenden Kapiteln.</div>
<div class="s" style="left:111.50px;top:1107.71px;font-family:'Liberation Sans', sans-serif;font-size:17px;font-weight:bold;font-style:normal;color:#1f8794;letter-spacing:-1.422px">16</div>
<div class="s" style="left:153.00px;top:1108.06px;font-family:'Liberation Sans', sans-serif;font-size:16px;font-weight:normal;font-style:normal;color:#1e1c1c;letter-spacing:0.131px">Wie unsere Erwartungen die Gesundheit und Genesung beeinflussen</div>
<div class="s" style="left:1139.60px;top:1108.06px;font-family:'Liberation Sans', sans-serif;font-size:16px;font-weight:normal;font-style:normal;color:#1e1c1c">Glauben, hoffen und erwarten</div>
<div class="s" style="left:1372.40px;top:1107.71px;font-family:'Liberation Sans', sans-serif;font-size:17px;font-weight:bold;font-style:normal;color:#1f8794;letter-spacing:-2.922px">17</div>
<div class="s" style="left:845.50px;top:192.88px;font-family:'Liberation Sans', sans-serif;font-size:19.4px;font-weight:bold;font-style:italic;color:#17808a;letter-spacing:-0.027px">Wo wirkt der Erwartungseffekt?</div>
<div class="s" style="left:844.00px;top:1052.83px;font-family:'Liberation Sans', sans-serif;font-size:15.8px;font-weight:normal;font-style:normal;-webkit-text-stroke:0.75px #1e1c1c;color:#1e1c1c;transform:scaleX(1.1080);transform-origin:0 0">Placebo- und Nocebo-Effekte gibt es in vielen körperlichen Systemen.</div>
<div class="s" style="left:313.89px;top:134.86px;font-family:'Liberation Sans', sans-serif;font-size:18.3px;font-weight:normal;font-style:normal;-webkit-text-stroke:0.3px #1e1c1c;color:#1e1c1c">Erwartungen des</div>
<div class="s" style="left:344.38px;top:155.86px;font-family:'Liberation Sans', sans-serif;font-size:18.3px;font-weight:normal;font-style:normal;-webkit-text-stroke:0.3px #1e1c1c;color:#1e1c1c">Patienten</div>
<div class="s" style="left:170.21px;top:223.16px;font-family:'Liberation Sans', sans-serif;font-size:18.3px;font-weight:normal;font-style:normal;-webkit-text-stroke:0.3px #1e1c1c;color:#1e1c1c">Erkrankung/</div>
<div class="s" style="left:136.00px;top:244.26px;font-family:'Liberation Sans', sans-serif;font-size:18.3px;font-weight:normal;font-style:normal;-webkit-text-stroke:0.3px #1e1c1c;color:#1e1c1c;letter-spacing:0.018px">Gesundheitszustand</div>
<div class="s" style="left:502.47px;top:222.66px;font-family:'Liberation Sans', sans-serif;font-size:18.3px;font-weight:normal;font-style:normal;-webkit-text-stroke:0.3px #1e1c1c;color:#1e1c1c">Genesung/</div>
<div class="s" style="left:488.25px;top:244.06px;font-family:'Liberation Sans', sans-serif;font-size:18.3px;font-weight:normal;font-style:normal;-webkit-text-stroke:0.3px #1e1c1c;color:#1e1c1c">Therapieerfolg</div>
<div class="s" style="left:324.03px;top:321.26px;font-family:'Liberation Sans', sans-serif;font-size:18.3px;font-weight:normal;font-style:normal;-webkit-text-stroke:0.3px #1e1c1c;color:#1e1c1c">Behandlungen</div>
<div class="s" style="left:1067.40px;top:600.45px;font-family:'Liberation Sans', sans-serif;font-size:21.2px;font-weight:normal;font-style:normal;-webkit-text-stroke:0.4px #ffffff;color:#ffffff;transform:scaleX(1.0240);transform-origin:0 0">Erwartung</div>
<div class="s" style="left:866.00px;top:731.56px;font-family:'Liberation Sans', sans-serif;font-size:13.4px;-webkit-text-stroke:0.25px #1e1c1c;color:#1e1c1c;letter-spacing:-0.126px">Stimmung</div>
<div class="s" style="left:860.95px;top:746.96px;font-family:'Liberation Sans', sans-serif;font-size:13.4px;-webkit-text-stroke:0.25px #1e1c1c;color:#1e1c1c;letter-spacing:-0.125px">(z. B. Angst,</div>
<div class="s" style="left:860.10px;top:761.36px;font-family:'Liberation Sans', sans-serif;font-size:13.4px;-webkit-text-stroke:0.25px #1e1c1c;color:#1e1c1c;letter-spacing:-0.060px">Depression)</div>
<div class="s" style="left:1317.95px;top:731.86px;font-family:'Liberation Sans', sans-serif;font-size:13.4px;-webkit-text-stroke:0.25px #1e1c1c;color:#1e1c1c;letter-spacing:-0.491px">Schmerz</div>
<div class="s" style="left:869.40px;top:876.76px;font-family:'Liberation Sans', sans-serif;font-size:13.4px;-webkit-text-stroke:0.25px #1e1c1c;color:#1e1c1c;letter-spacing:0.188px">Atmung/</div>
<div class="s" style="left:848.45px;top:892.56px;font-family:'Liberation Sans', sans-serif;font-size:13.4px;-webkit-text-stroke:0.25px #1e1c1c;color:#1e1c1c;letter-spacing:0.100px">Lungenfunktion</div>
<div class="s" style="left:1310.40px;top:876.96px;font-family:'Liberation Sans', sans-serif;font-size:13.4px;-webkit-text-stroke:0.25px #1e1c1c;color:#1e1c1c;letter-spacing:0.011px">Motorische</div>
<div class="s" style="left:1310.70px;top:892.56px;font-family:'Liberation Sans', sans-serif;font-size:13.4px;-webkit-text-stroke:0.25px #1e1c1c;color:#1e1c1c;letter-spacing:-0.141px">Funktionen</div>
<div class="s" style="left:852.00px;top:1007.76px;font-family:'Liberation Sans', sans-serif;font-size:13.4px;-webkit-text-stroke:0.25px #1e1c1c;color:#1e1c1c;letter-spacing:-0.093px">Herz-Kreislauf-</div>
<div class="s" style="left:876.00px;top:1023.56px;font-family:'Liberation Sans', sans-serif;font-size:13.4px;-webkit-text-stroke:0.25px #1e1c1c;color:#1e1c1c;letter-spacing:-0.931px">System</div>
<div class="s" style="left:1001.00px;top:1007.76px;font-family:'Liberation Sans', sans-serif;font-size:13.4px;-webkit-text-stroke:0.25px #1e1c1c;color:#1e1c1c;letter-spacing:-0.374px">Immunsystem</div>
<div class="s" style="left:1153.40px;top:1007.76px;font-family:'Liberation Sans', sans-serif;font-size:13.4px;-webkit-text-stroke:0.25px #1e1c1c;color:#1e1c1c;letter-spacing:0.161px">Magen-Darm-</div>
<div class="s" style="left:1181.25px;top:1023.26px;font-family:'Liberation Sans', sans-serif;font-size:13.4px;-webkit-text-stroke:0.25px #1e1c1c;color:#1e1c1c;letter-spacing:-0.329px">Trakt</div>
<div class="s" style="left:1308.20px;top:1007.76px;font-family:'Liberation Sans', sans-serif;font-size:13.4px;-webkit-text-stroke:0.25px #1e1c1c;color:#1e1c1c;letter-spacing:0.343px">Hormone/</div>
<div class="s" style="left:1305.45px;top:1023.26px;font-family:'Liberation Sans', sans-serif;font-size:13.4px;-webkit-text-stroke:0.25px #1e1c1c;color:#1e1c1c;letter-spacing:-0.002px">Botenstoffe</div>
</body></html>
